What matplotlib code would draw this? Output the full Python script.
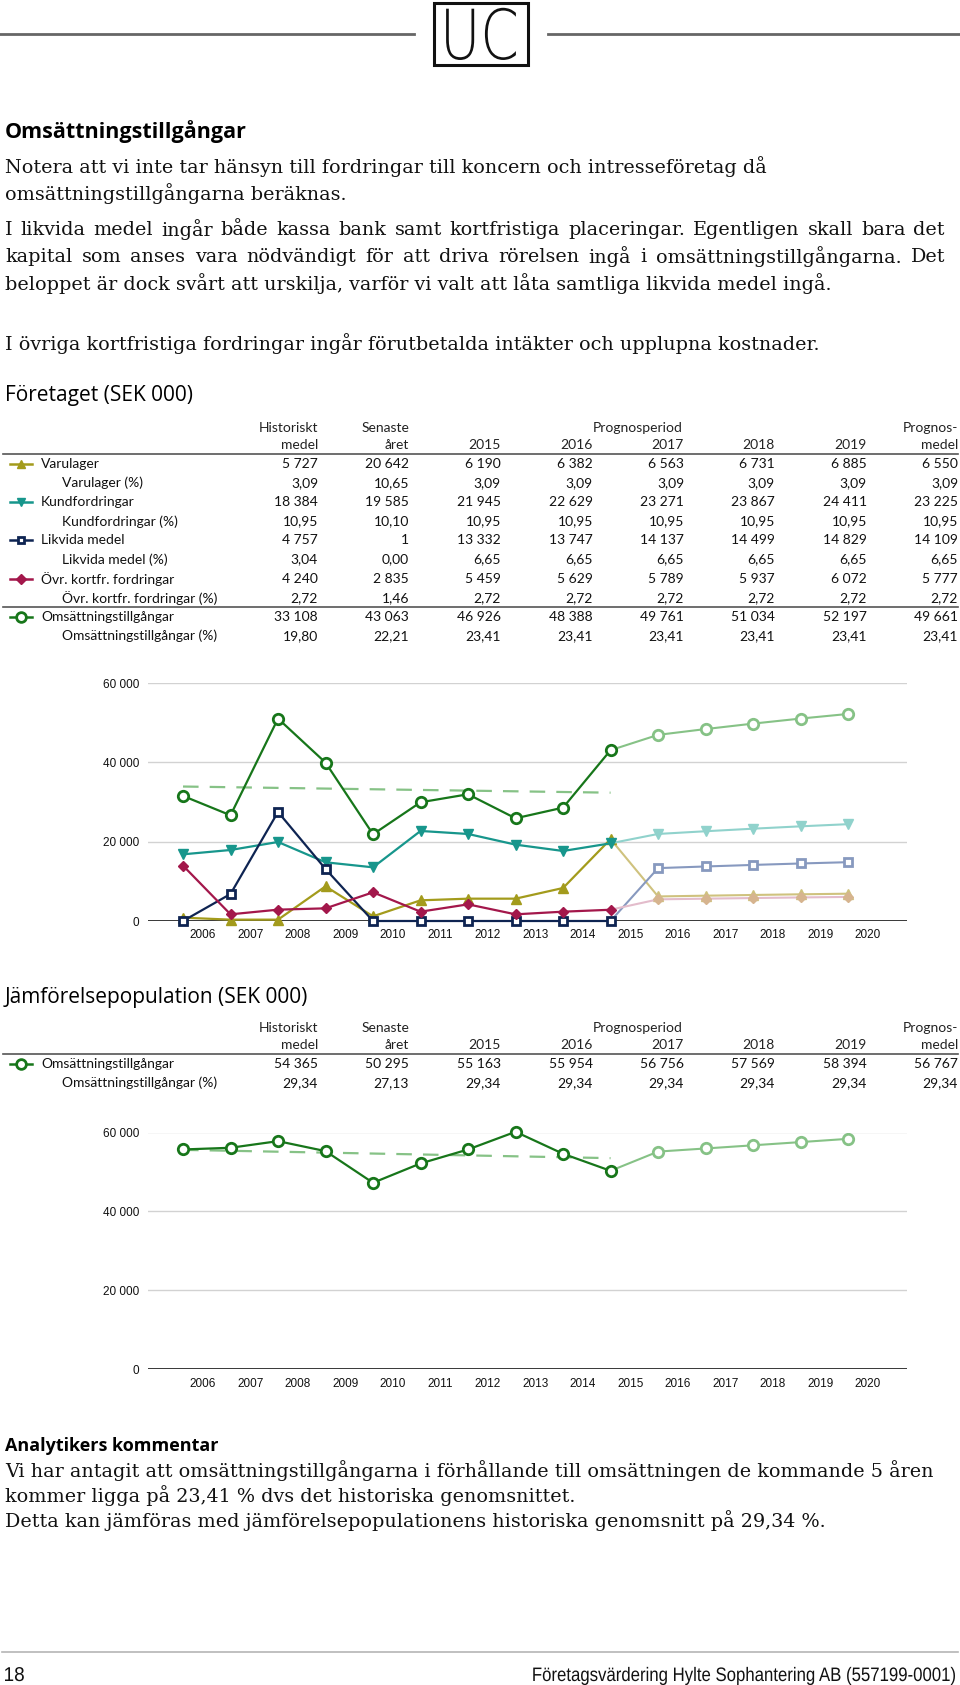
import numpy as np
import matplotlib
matplotlib.use('Agg')
import matplotlib.pyplot as plt
from matplotlib.lines import Line2D
from matplotlib.patches import Rectangle, PathPatch
from matplotlib.textpath import TextPath
from matplotlib.font_manager import FontProperties
from matplotlib.transforms import Affine2D
from matplotlib.ticker import FuncFormatter

W, H = 960, 1685

# ---- data ----
tick_years = ['2006', '2007', '2008', '2009', '2010', '2011', '2012', '2013',
              '2014', '2015', '2016', '2017', '2018', '2019', '2020']

varulager_hist = [840, 340, 340, 8740, 1180, 5210, 5630, 5630, 8320, 20642]
varulager_prog = [6190, 6382, 6563, 6731, 6885]
kund_hist = [16810, 17900, 19920, 14800, 13530, 22700, 21940, 19250, 17650, 19585]
kund_prog = [21945, 22629, 23271, 23867, 24411]
likvida_hist = [0, 6810, 27490, 13110, 0, 0, 0, 0, 0, 1]
likvida_prog = [13332, 13747, 14137, 14499, 14829]
ovr_hist = [13960, 1680, 2860, 3190, 7230, 2350, 4200, 1680, 2350, 2835]
ovr_prog = [5459, 5629, 5789, 5937, 6072]
oms_hist = [31530, 26650, 51030, 39930, 21860, 29930, 31950, 25890, 28580, 43063]
oms_prog = [46926, 48388, 49761, 51034, 52197]
oms_trend = [33900, 32350]

jmf_hist = [55700, 56130, 57810, 55280, 47260, 52160, 55700, 60180, 54610, 50295]
jmf_prog = [55163, 55954, 56756, 57569, 58394]
jmf_trend = [55600, 53500]

head_top = ['Historiskt', 'Senaste', '', '', '', '', '', 'Prognos-']
head_bottom = ['medel', 'året', '2015', '2016', '2017', '2018', '2019', 'medel']

table1_labels = ['Varulager', 'Varulager (%)', 'Kundfordringar', 'Kundfordringar (%)',
                 'Likvida medel', 'Likvida medel (%)', 'Övr. kortfr. fordringar',
                 'Övr. kortfr. fordringar (%)', 'Omsättningstillgångar',
                 'Omsättningstillgångar (%)']
table1_values = [
    ['5 727', '20 642', '6 190', '6 382', '6 563', '6 731', '6 885', '6 550'],
    ['3,09', '10,65', '3,09', '3,09', '3,09', '3,09', '3,09', '3,09'],
    ['18 384', '19 585', '21 945', '22 629', '23 271', '23 867', '24 411', '23 225'],
    ['10,95', '10,10', '10,95', '10,95', '10,95', '10,95', '10,95', '10,95'],
    ['4 757', '1', '13 332', '13 747', '14 137', '14 499', '14 829', '14 109'],
    ['3,04', '0,00', '6,65', '6,65', '6,65', '6,65', '6,65', '6,65'],
    ['4 240', '2 835', '5 459', '5 629', '5 789', '5 937', '6 072', '5 777'],
    ['2,72', '1,46', '2,72', '2,72', '2,72', '2,72', '2,72', '2,72'],
    ['33 108', '43 063', '46 926', '48 388', '49 761', '51 034', '52 197', '49 661'],
    ['19,80', '22,21', '23,41', '23,41', '23,41', '23,41', '23,41', '23,41'],
]
table2_labels = ['Omsättningstillgångar', 'Omsättningstillgångar (%)']
table2_values = [
    ['54 365', '50 295', '55 163', '55 954', '56 756', '57 569', '58 394', '56 767'],
    ['29,34', '27,13', '29,34', '29,34', '29,34', '29,34', '29,34', '29,34'],
]

intro_lines = [
    'Notera att vi inte tar hänsyn till fordringar till koncern och intresseföretag då',
    'omsättningstillgångarna beräknas.',
    'I likvida medel ingår både kassa bank samt kortfristiga placeringar. Egentligen skall bara det',
    'kapital som anses vara nödvändigt för att driva rörelsen ingå i omsättningstillgångarna. Det',
    'beloppet är dock svårt att urskilja, varför vi valt att låta samtliga likvida medel ingå.',
    'I övriga kortfristiga fordringar ingår förutbetalda intäkter och upplupna kostnader.',
]
intro_justified = [False, False, True, True, False, False]
comment_lines = [
    'Vi har antagit att omsättningstillgångarna i förhållande till omsättningen de kommande 5 åren',
    'kommer ligga på 23,41 % dvs det historiska genomsnittet.',
    'Detta kan jämföras med jämförelsepopulationens historiska genomsnitt på 29,34 %.',
]

# ---- styles ----
GREEN, GREEN_L = '#17761a', '#86c286'
TEAL, TEAL_L = '#17968c', '#90d2cc'
NAVY, NAVY_L = '#0e2452', '#8799bf'
CRIM, CRIM_L = '#a3174b', '#e3bccb'
OLIVE, OLIVE_L = '#a39b1c', '#cfc27e'
TAN = '#d6b48f'

series = [
    (varulager_hist, varulager_prog, OLIVE, OLIVE_L, '^', 6.5, OLIVE, OLIVE_L),
    (kund_hist, kund_prog, TEAL, TEAL_L, 'v', 6.5, TEAL, TEAL_L),
    (likvida_hist, likvida_prog, NAVY, NAVY_L, 's', 5.5, 'white', 'white'),
    (ovr_hist, ovr_prog, CRIM, CRIM_L, 'D', 5.5, CRIM, TAN),
    (oms_hist, oms_prog, GREEN, GREEN_L, 'o', 7.5, 'white', 'white'),
]

SANS = ['Open Sans', 'DejaVu Sans']
TAB = ['Lato', 'Open Sans', 'DejaVu Sans']
SERIF = ['DejaVu Serif']
ARIAL = ['Liberation Sans', 'DejaVu Sans']


def fx(x):
    return x / W


def fy(y):
    return 1 - y / H


fig = plt.figure(figsize=(W / 100, H / 100), dpi=100)
renderer = fig.canvas.get_renderer()


def txt(x, y, s, size, ha='left', family=SANS, **kw):
    return fig.text(fx(x), fy(y), s, fontsize=size, ha=ha, va='center', family=family, **kw)


def justified(x0, x1, y, line, size, family, color):
    words = line.split(' ')
    items = [txt(0, y, w, size, family=family, color=color) for w in words]
    widths = [t.get_window_extent(renderer).width for t in items]
    gap = (x1 - x0 - sum(widths)) / (len(words) - 1)
    x = x0
    for t, w in zip(items, widths):
        t.set_x(fx(x))
        x += w + gap


def path_text(x, y, s, size_px, sx, family, weight='normal', ha='left'):
    # text drawn as a path so it can be squeezed horizontally; y is the baseline
    tp = TextPath((0, 0), s, size=100, prop=FontProperties(family=family, weight=weight))
    ext = tp.get_extents()
    sc = size_px / 100.0
    w = ext.width * sc * sx
    x0 = x - w if ha == 'right' else (x - w / 2 if ha == 'center' else x)
    tr = Affine2D().translate(-ext.x0, 0).scale(sc * sx / W, sc / H).translate(fx(x0), fy(y))
    fig.add_artist(PathPatch(tr.transform_path(tp), transform=fig.transFigure,
                             color='#111111', lw=0))


def hline(x0, x1, y, color, lw):
    fig.add_artist(Line2D([fx(x0), fx(x1)], [fy(y), fy(y)], transform=fig.transFigure,
                          color=color, lw=lw))


# header with logo
hline(0, 414, 34, '#666666', 2)
hline(548, 960, 34, '#666666', 2)
fig.add_artist(Rectangle((fx(434), fy(65)), fx(94), 62 / H, transform=fig.transFigure,
                         fill=False, edgecolor='#111111', lw=2.2))
path_text(481, 59, 'UC', 69, 0.8, ['DejaVu Sans'], weight='light', ha='center')

# intro text
txt(5, 132, 'Omsättningstillgångar', 15.5, family=SANS, weight='bold')
for line, y, just in zip(intro_lines, [167, 194, 230, 257, 284, 344], intro_justified):
    if just:
        justified(5, 945, y, line, 13.8, SERIF, '#111111')
    else:
        txt(5, y, line, 13.8, family=SERIF, color='#111111')

col_right = [318, 409, 501, 593, 684, 775, 867, 958]


def draw_icon(y, color, marker, ms, face):
    fig.add_artist(Line2D([fx(10), fx(32)], [fy(y), fy(y)], transform=fig.transFigure,
                          color=color, lw=1.8))
    fig.add_artist(Line2D([fx(21)], [fy(y)], transform=fig.transFigure, color=color,
                          marker=marker, ms=ms, mfc=face, mec=color, mew=2 if face == 'white' else 1))


def draw_table(y_head, labels, values, icons, sep_after=None):
    fs = 10
    for c, (a, b) in enumerate(zip(head_top, head_bottom)):
        if a:
            txt(col_right[c], y_head, a, fs, ha='right', family=TAB, color='#222222')
        txt(col_right[c], y_head + 17, b, fs, ha='right', family=TAB, color='#222222')
    txt(638, y_head, 'Prognosperiod', fs, ha='center', family=TAB, color='#222222')
    hline(3, 958, y_head + 26, '#555555', 1.2)
    y0 = y_head + 36
    for i, (lab, vals) in enumerate(zip(labels, values)):
        y = y0 + 19.1 * i
        indent = 62 if '(%)' in lab else 41
        txt(indent, y, lab, fs, family=TAB, color='#111111')
        for c, v in enumerate(vals):
            txt(col_right[c], y, v, fs, ha='right', family=TAB, color='#111111')
        if i // 2 < len(icons) and i % 2 == 0:
            draw_icon(y, *icons[i // 2])
        if sep_after is not None and i == sep_after:
            hline(3, 958, y + 9.5, '#555555', 1.2)


icons1 = [(s[2], s[4], s[5] - 0.5, s[6]) for s in series]
txt(5, 396, 'Företaget (SEK 000)', 15, family=SANS)
draw_table(428, table1_labels, table1_values, icons1, sep_after=7)

txt(5, 997, 'Jämförelsepopulation (SEK 000)', 15, family=SANS)
draw_table(1028, table2_labels, table2_values, [icons1[-1]])


def setup_axes(top, bottom):
    ax = fig.add_axes([fx(148), fy(bottom), fx(907 - 148), (bottom - top) / H])
    ax.set_xlim(-0.737, 15.24)
    ax.set_ylim(0, 60000)
    ax.set_yticks([0, 20000, 40000, 60000])
    ax.yaxis.set_major_formatter(FuncFormatter(lambda v, p: f'{int(v):,}'.replace(',', ' ')))
    ax.set_xticks(np.arange(len(tick_years)) + 0.42)
    ax.set_xticklabels(tick_years)
    for s in ax.spines.values():
        s.set_visible(False)
    ax.grid(axis='y', color='#d2d2d2', lw=1)
    ax.set_axisbelow(True)
    ax.axhline(0, color='black', lw=1.8, zorder=1.5)
    ax.tick_params(length=0, labelsize=8.5, colors='#111111')
    ax.tick_params(axis='y', pad=6.5)
    ax.tick_params(axis='x', pad=6)
    for lab in ax.get_xticklabels() + ax.get_yticklabels():
        lab.set_family(ARIAL)
    return ax


def plot_series(ax, hist, prog, color, light, marker, ms, face, lface, z):
    xh = np.arange(len(hist))
    xp = np.arange(len(hist) - 1, len(hist) + len(prog))
    yp = [hist[-1]] + list(prog)
    open_m = face == 'white'
    mew = 2 if open_m else 1
    ax.plot(xp, yp, color=light, lw=1.5, zorder=z)
    ax.plot(xp[1:], yp[1:], ls='none', marker=marker, ms=ms, mfc=lface,
            mec=light if open_m else lface, mew=mew, zorder=z)
    ax.plot(xh, hist, color=color, lw=1.6, marker=marker, ms=ms, mfc=face,
            mec=color, mew=mew, zorder=z + 1, clip_on=False)


ax1 = setup_axes(683, 921)
ax1.plot([0, len(oms_hist) - 1], oms_trend, color=GREEN_L, lw=1.6, dashes=(7, 5), zorder=2)
for k, s in enumerate(series):
    plot_series(ax1, *s, z=3 + 2 * k)

ax2 = setup_axes(1132.5, 1369.3)
ax2.plot([0, len(jmf_hist) - 1], jmf_trend, color=GREEN_L, lw=1.6, dashes=(7, 5), zorder=2)
plot_series(ax2, jmf_hist, jmf_prog, GREEN, GREEN_L, 'o', 7.5, 'white', 'white', z=4)

# analyst comment
txt(5, 1446, 'Analytikers kommentar', 13, family=SANS, weight='bold')
for line, y in zip(comment_lines, [1471, 1496, 1521]):
    txt(5, y, line, 13.8, family=SERIF, color='#111111')

# footer
hline(2, 958, 1652, '#b5b5b5', 1.2)
path_text(5, 1681, '18', 20, 0.95, ARIAL)
path_text(955, 1681, 'Företagsvärdering Hylte Sophantering AB (557199-0001)', 19.5, 0.86,
          ARIAL, ha='right')

fig.savefig('out.png', dpi=100)
